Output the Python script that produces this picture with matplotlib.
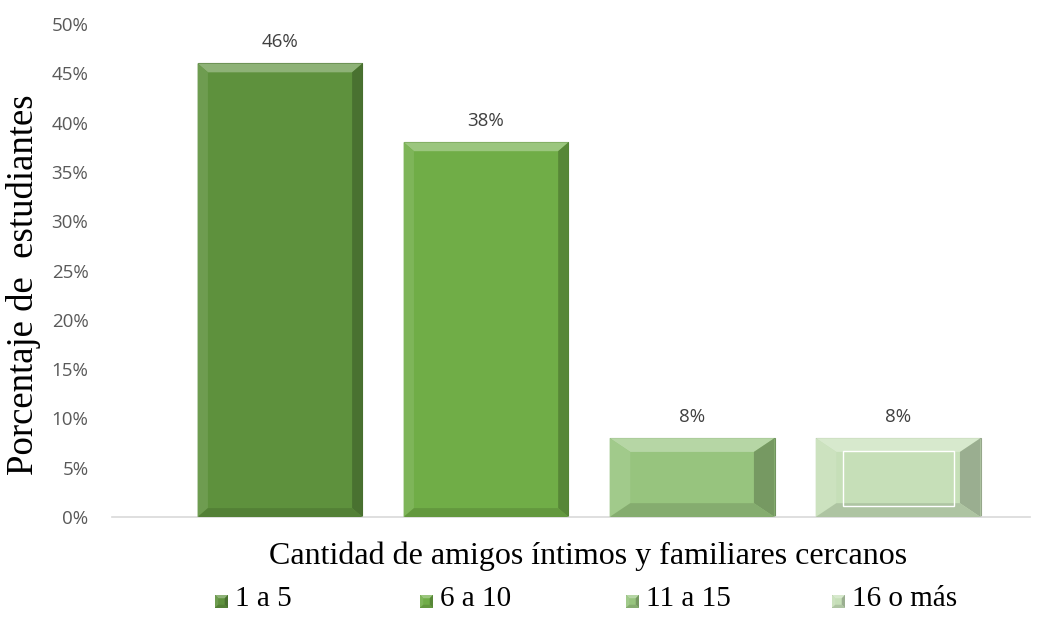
import numpy as np
import matplotlib.pyplot as plt
from matplotlib.patches import Polygon, Rectangle
from matplotlib.ticker import MultipleLocator, FuncFormatter

# datos
categorias = ['1 a 5', '6 a 10', '11 a 15', '16 o más']
porcentajes = [46, 38, 8, 8]
colores = ['#5e913d', '#70ad47', '#97c47e', '#c6dfb8']


def aclarar(c, f):
    rgb = np.array(plt.matplotlib.colors.to_rgb(c))
    return tuple(rgb + (1 - rgb) * f)


def oscurecer(c, f):
    rgb = np.array(plt.matplotlib.colors.to_rgb(c))
    return tuple(rgb * (1 - f))


def barra_bisel(ax, x0, ancho, alto, color, bx, by):
    # cuerpo
    ax.add_patch(Rectangle((x0, 0), ancho, alto, facecolor=color,
                           edgecolor=oscurecer(color, 0.25), lw=0.8, zorder=2))
    x1 = x0 + ancho
    bx = min(bx, ancho / 2)
    by = min(by, alto / 2)
    caras = [
        ([(x0, alto), (x1, alto), (x1 - bx, alto - by), (x0 + bx, alto - by)], aclarar(color, 0.3)),
        ([(x0, 0), (x0, alto), (x0 + bx, alto - by), (x0 + bx, by)], aclarar(color, 0.1)),
        ([(x1, 0), (x1, alto), (x1 - bx, alto - by), (x1 - bx, by)], oscurecer(color, 0.22)),
        ([(x0, 0), (x1, 0), (x1 - bx, by), (x0 + bx, by)], oscurecer(color, 0.12)),
    ]
    for pts, c in caras:
        ax.add_patch(Polygon(pts, closed=True, facecolor=c, edgecolor='none', zorder=3))


def main():
    plt.rcParams['font.family'] = ['Open Sans', 'DejaVu Sans']
    fig = plt.figure(figsize=(10.52, 6.28), dpi=100)
    ax = fig.add_axes([112 / 1052, 111 / 628, 918 / 1052, 493 / 628])

    x = np.arange(len(categorias))
    ancho = 0.8
    for i, (v, c) in enumerate(zip(porcentajes, colores)):
        # barras 1 y 2 con bisel fino, 3 y 4 con bisel ancho
        bx, by = (0.05, 0.9) if v > 20 else (0.1, 1.4)
        barra_bisel(ax, x[i] - ancho / 2, ancho, v, c, bx, by)
        if i == 3:
            ax.add_patch(Rectangle((x[i] - ancho / 2 + 0.13, 1.1), ancho - 0.26, v - 2.4,
                                   facecolor='none', edgecolor='white', lw=1.0, zorder=4))
        ax.annotate(f'{v}%', (x[i], v), xytext=(0, 9), textcoords='offset points',
                    ha='center', va='bottom', fontsize=13.5, color='#404040')

    ax.set_xlim(-0.8155, 3.64)
    ax.set_ylim(0, 50)
    ax.yaxis.set_major_locator(MultipleLocator(5))
    ax.yaxis.set_major_formatter(FuncFormatter(lambda v, p: f'{v:.0f}%'))
    ax.tick_params(axis='y', length=0, labelsize=13.5, labelcolor='#595959', pad=17)
    ax.set_xticks([])
    for s in ['top', 'right', 'left']:
        ax.spines[s].set_visible(False)
    ax.spines['bottom'].set_color('#d9d9d9')
    ax.spines['bottom'].set_linewidth(1.2)

    serif = ['Liberation Serif', 'DejaVu Serif']
    fig.text(24 / 1052, 1 - 285 / 628, 'Porcentaje de  estudiantes', rotation=90,
             ha='center', va='center', fontsize=26.5, family=serif)
    fig.text(588 / 1052, 1 - 556 / 628, 'Cantidad de amigos íntimos y familiares cercanos',
             ha='center', va='center', fontsize=23, family=serif)

    # leyenda
    pos_x = [222, 427, 633, 839]
    for px, etiqueta, c in zip(pos_x, categorias, colores):
        ax_l = fig.add_axes([(px - 7) / 1052, 1 - 608 / 628, 13 / 1052, 13 / 628])
        ax_l.set_xlim(0, 1)
        ax_l.set_ylim(0, 1)
        ax_l.axis('off')
        barra_bisel(ax_l, 0, 1, 1, c, 0.25, 0.25)
        fig.text((px + 13) / 1052, 1 - 599 / 628, etiqueta, ha='left', va='center',
                 fontsize=21, family=serif)

    fig.savefig('out.png', dpi=100)


if __name__ == '__main__':
    main()
